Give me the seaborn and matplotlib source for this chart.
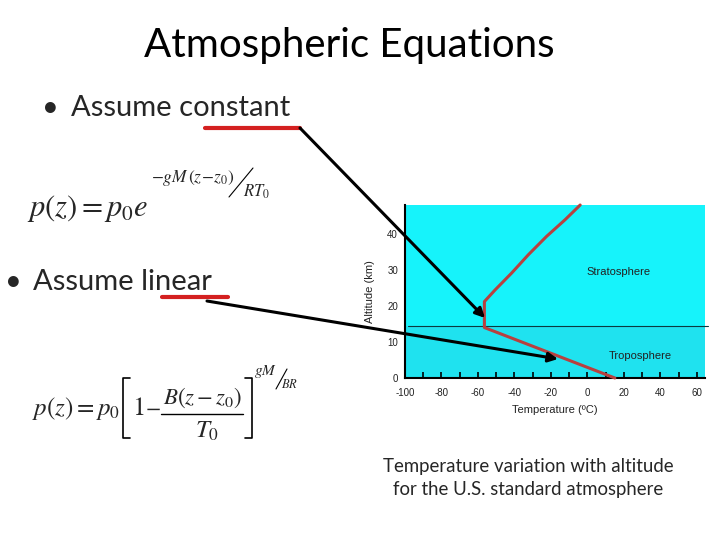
import matplotlib
matplotlib.use("Agg")
import matplotlib.pyplot as plt
import seaborn as sns
import pandas as pd
import numpy as np

# ---- data ----
temperature_c = [15, -56.5, -56.5, -50.7, -41.6, -32.4, -22.4, -12.3, -4]
altitude_km = [0, 14, 21.2, 24.4, 29.1, 34.2, 39.3, 43.9, 48]
tropopause_km = 14.4
x_ticks = [-100, -80, -60, -40, -20, 0, 20, 40, 60]
x_minor = list(range(-100, 61, 10))
y_ticks = [0, 10, 20, 30, 40]
regions = ["Stratosphere", "Troposphere"]
region_pos = [(17, 29.5), (29, 6)]

title = "Atmospheric Equations"
bullets = ["Assume constant", "Assume linear"]
caption = "Temperature variation with altitude\nfor the U.S. standard atmosphere"

sns.set_theme(style="white")
plt.rcParams["mathtext.fontset"] = "stix"

fig = plt.figure(figsize=(7.2, 5.4), dpi=100)
fig.patch.set_facecolor("white")

W, H = 720, 540
ax = fig.add_axes([405 / W, (H - 378) / H, 300 / W, 173 / H])
ax.set_facecolor("#16f3fb")
ax.axhspan(0, tropopause_km, color="#1fe2ef", lw=0, zorder=0)

df = pd.DataFrame({"Temperature": temperature_c, "Altitude": altitude_km})
sns.lineplot(data=df, x="Temperature", y="Altitude", sort=False, estimator=None,
             ax=ax, color="#b8403f", lw=2.2, zorder=3, clip_on=False)
ax.plot([-98.5, 66], [tropopause_km, tropopause_km], color="#0a3a40",
        lw=0.8, clip_on=False, zorder=2)

ax.set_xlim(-100, 64.4)
ax.set_ylim(0, 48)
cf = ["Liberation Sans", "DejaVu Sans"]
ax.set_xticks(x_ticks)
ax.set_xticklabels([str(t) for t in x_ticks], family=cf, fontsize=7, color="#222222")
ax.set_xticks(x_minor, minor=True)
ax.set_yticks(y_ticks)
ax.set_yticklabels([str(t) for t in y_ticks], family=cf, fontsize=7, color="#222222")
ax.tick_params(axis="x", which="both", direction="in", length=4, width=1.2,
               color="black", bottom=True, pad=7)
ax.tick_params(axis="y", which="both", length=0, pad=5)
for s in ["top", "right"]:
    ax.spines[s].set_visible(False)
for s in ["left", "bottom"]:
    ax.spines[s].set_visible(True)
    ax.spines[s].set_color("black")
    ax.spines[s].set_linewidth(1.5)
ax.set_xlabel("Temperature (ºC)", family=cf, fontsize=8, color="#222222", labelpad=5)
ax.set_ylabel("Altitude (km)", family=cf, fontsize=8, color="#222222", labelpad=9)
for name, (x, y) in zip(regions, region_pos):
    ax.text(x, y, name, family=cf, fontsize=8, color="#222222",
            ha="center", va="center")

# ---- overlay for slide elements ----
ov = fig.add_axes([0, 0, 1, 1], zorder=10)
ov.set_xlim(0, W)
ov.set_ylim(H, 0)
ov.axis("off")
ov.patch.set_alpha(0)

sf = ["Lato", "DejaVu Sans"]
ov.text(349, 45, title, family=sf, fontsize=29, ha="center", va="center", color="black")
ov.text(50, 108, "•", family=sf, fontsize=21, ha="center", va="center")
ov.text(71, 108, bullets[0], family=sf, fontsize=21, ha="left", va="center")
ov.text(13, 282, "•", family=sf, fontsize=21, ha="center", va="center")
ov.text(33, 282, bullets[1], family=sf, fontsize=21, ha="left", va="center")
ov.plot([205, 300], [128, 128], color="#d42020", lw=3)
ov.plot([162, 228], [297, 297], color="#d42020", lw=3)

ov.annotate("", xy=(485, 318), xytext=(300, 128),
            arrowprops=dict(arrowstyle="-|>", color="black", lw=2.2,
                            mutation_scale=14, shrinkA=0, shrinkB=0))
ov.annotate("", xy=(558, 359), xytext=(207, 301),
            arrowprops=dict(arrowstyle="-|>", color="black", lw=2.2,
                            mutation_scale=14, shrinkA=0, shrinkB=0))

ov.text(528, 478, caption, family=sf, fontsize=13.4, ha="center", va="center",
        linespacing=1.45)

# equation 1
ov.text(27, 209, r"$p(z) = p_0e$", fontsize=22, ha="left", va="center")
ov.text(151, 178, r"$-gM\,(z\!-\!z_0)$", fontsize=12.5, ha="left", va="center")
ov.plot([229, 253], [197, 168], color="black", lw=0.8)
ov.text(243, 192, r"$RT_0$", fontsize=12, ha="left", va="center")

# equation 2
ov.text(32, 408, r"$p(z) = p_0$", fontsize=18, ha="left", va="center")
ov.plot([130, 123, 123, 130], [378, 378, 438, 438], color="black", lw=1.2)
ov.text(132, 408, r"$1$", fontsize=19, ha="left", va="center")
ov.text(145, 408, r"$-$", fontsize=16, ha="left", va="center")
ov.text(203, 398, r"$B(z-z_0)$", fontsize=16.5, ha="center", va="center")
ov.plot([161, 243], [414, 414], color="black", lw=1.0)
ov.text(207, 431, r"$T_0$", fontsize=18, ha="center", va="center")
ov.plot([245, 252, 252, 245], [378, 378, 438, 438], color="black", lw=1.2)
ov.text(254, 372, r"$gM$", fontsize=11, ha="left", va="center")
ov.plot([276, 287], [389, 369], color="black", lw=0.8)
ov.text(281, 384, r"$BR$", fontsize=9, ha="left", va="center")

fig.savefig("out.png", dpi=100)
